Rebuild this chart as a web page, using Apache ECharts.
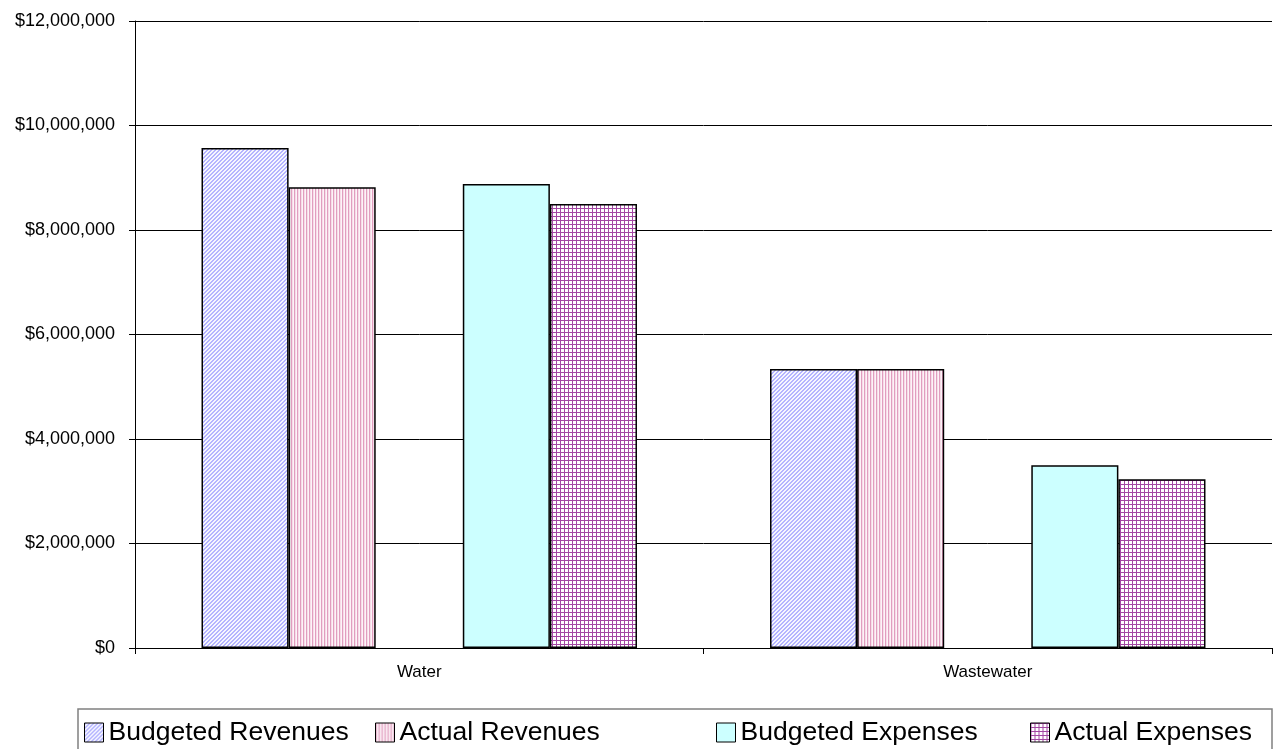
<!DOCTYPE html>
<html>
<head>
<meta charset="utf-8">
<script src="https://cdn.jsdelivr.net/npm/echarts@6/dist/echarts.min.js"></script>
<style>
html,body{margin:0;padding:0;background:#fff;}
#chart{width:1278px;height:749px;}
</style>
</head>
<body>
<div id="chart"></div>
<script>
var categories = ['Water', 'Wastewater'];
var seriesNames = ['Budgeted Revenues', 'Actual Revenues', 'Budgeted Expenses', 'Actual Expenses'];
var budgetedRevenues = [9570000, 5340000];
var actualRevenues = [8820000, 5340000];
var budgetedExpenses = [8880000, 3500000];
var actualExpenses = [8500000, 3230000];
var yMin = 0, yMax = 12000000, yInterval = 2000000;

function makeTile(w, h, fn) {
  var c = document.createElement('canvas');
  c.width = w; c.height = h;
  var ctx = c.getContext('2d');
  for (var x = 0; x < w; x++) {
    for (var y = 0; y < h; y++) {
      ctx.fillStyle = fn(x, y);
      ctx.fillRect(x, y, 1, 1);
    }
  }
  return c;
}
var brTile = makeTile(4, 4, function (x, y) { return ((x + y) % 4 < 2) ? '#B4B4FF' : '#F6F6FF'; });
var arTile = makeTile(3, 3, function (x, y) { return x === 0 ? '#E19DBF' : (x === 1 ? '#F6DCE8' : '#FDF3F8'); });
var aeTile = makeTile(4, 4, function (x, y) { return (x === 0 || y === 0) ? '#A347A3' : '#FFFFFF'; });

var brColor = { image: brTile, repeat: 'repeat' };
var arColor = { image: arTile, repeat: 'repeat' };
var beColor = '#CCFFFF';
var aeColor = { image: aeTile, repeat: 'repeat' };

function money(v) {
  return '$' + String(v).replace(/\B(?=(\d{3})+(?!\d))/g, ',');
}

var barStyle = function (color) {
  return { color: color, borderColor: '#000', borderWidth: 1.5 };
};

var legendBase = {
  top: 714,
  itemWidth: 19,
  itemHeight: 19,
  itemGap: 0,
  icon: 'rect',
  textStyle: { fontFamily: 'Liberation Sans, Arial', fontSize: 26.5, color: '#000', padding: [0, 0, 0, 0] },
  selectedMode: false
};
function legendAt(left, name) {
  var l = Object.assign({}, legendBase);
  l.left = left;
  l.data = [{ name: name, itemStyle: { borderColor: '#000', borderWidth: 1 } }];
  return l;
}

var chart = echarts.init(document.getElementById('chart'), null, { renderer: 'canvas' });
chart.setOption({
  animation: false,
  backgroundColor: '#fff',
  grid: { left: 135, right: 6, top: 21, bottom: 101 },
  legend: [
    legendAt(79, seriesNames[0]),
    legendAt(370, seriesNames[1]),
    legendAt(711, seriesNames[2]),
    legendAt(1025, seriesNames[3])
  ],
  graphic: [{
    type: 'rect',
    shape: { x: 78, y: 709, width: 1194, height: 50 },
    style: { fill: 'none', stroke: '#808080', lineWidth: 1.5 },
    silent: true
  }],
  xAxis: {
    type: 'category',
    data: categories,
    axisLine: { lineStyle: { color: '#000', width: 1 } },
    axisTick: { show: true, length: 6, lineStyle: { color: '#000' } },
    axisLabel: { fontFamily: 'Liberation Sans, Arial', fontSize: 17, color: '#000', margin: 16 },
    splitLine: { show: false }
  },
  yAxis: {
    type: 'value',
    min: yMin, max: yMax, interval: yInterval,
    axisLine: { show: true, lineStyle: { color: '#000', width: 1 } },
    axisTick: { show: true, length: 6, lineStyle: { color: '#000' } },
    axisLabel: { fontFamily: 'Liberation Sans, Arial', fontSize: 18, color: '#000', margin: 20, formatter: money },
    splitLine: { show: true, lineStyle: { color: '#000', width: 1 } }
  },
  series: [
    { name: seriesNames[0], type: 'bar', data: budgetedRevenues, itemStyle: barStyle(brColor), barGap: '0%', barCategoryGap: '23.4%' },
    { name: seriesNames[1], type: 'bar', data: actualRevenues, itemStyle: barStyle(arColor) },
    { name: ' ', type: 'bar', data: ['-', '-'], itemStyle: barStyle('#fff') },
    { name: seriesNames[2], type: 'bar', data: budgetedExpenses, itemStyle: barStyle(beColor) },
    { name: seriesNames[3], type: 'bar', data: actualExpenses, itemStyle: barStyle(aeColor) }
  ]
});
</script>
</body>
</html>
